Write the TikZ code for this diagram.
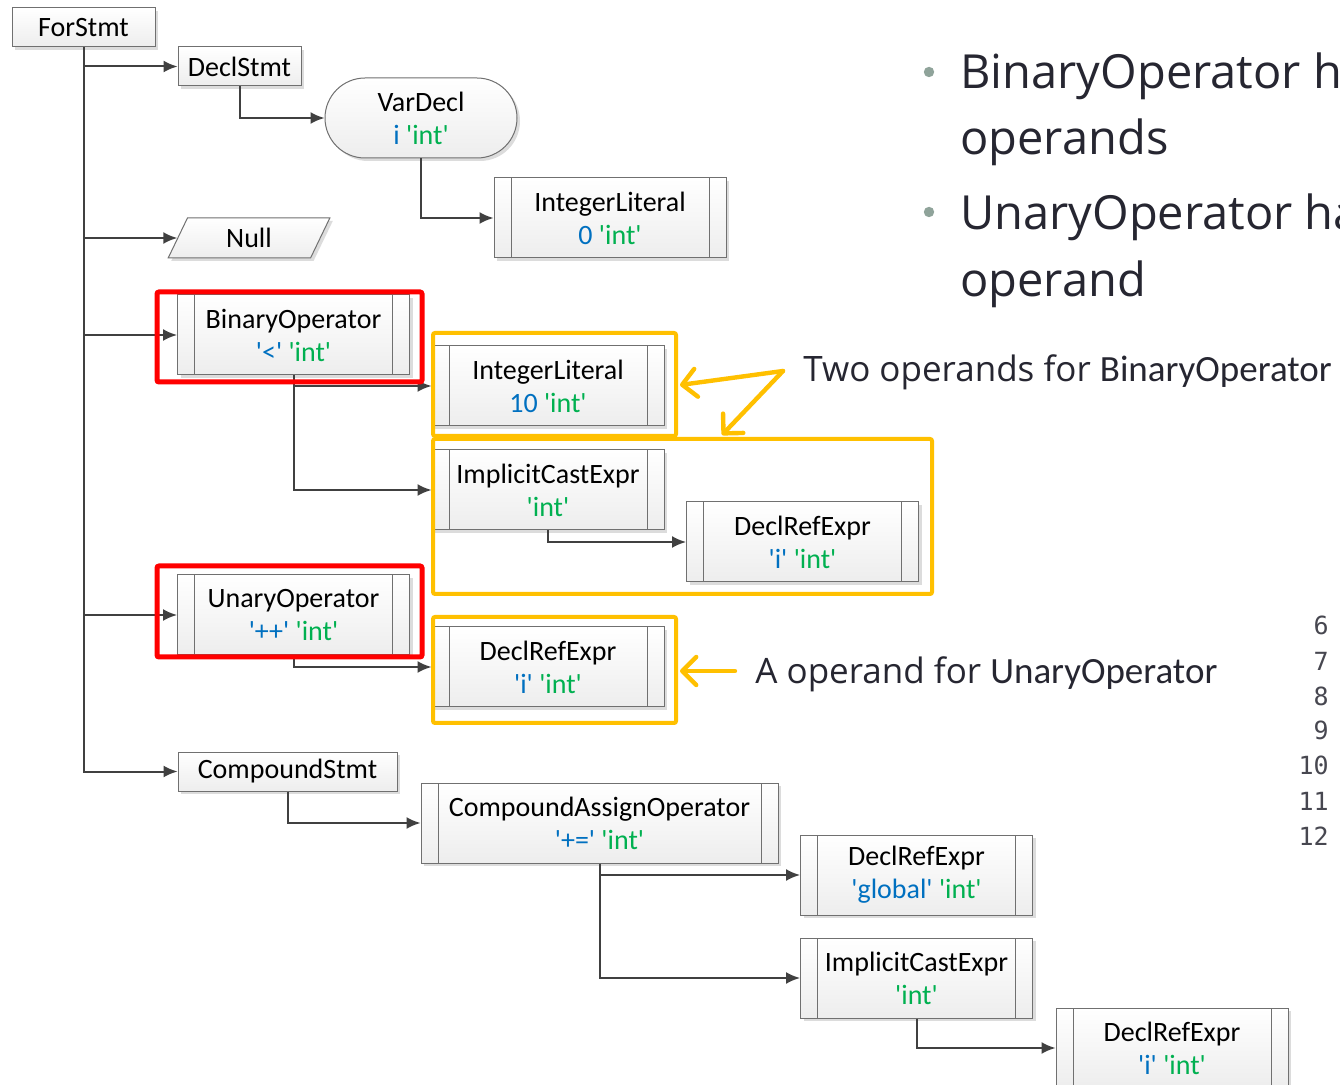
\documentclass[tikz,border=0pt]{standalone}
\usepackage{fontspec}
\setmainfont{Carlito}
\newfontfamily\segoe{Open Sans}
\newfontfamily\consolas{DejaVu Sans Mono}
\usetikzlibrary{shapes.geometric,arrows.meta,shadows}
\definecolor{valblue}{HTML}{0070C0}
\definecolor{typegreen}{HTML}{00B050}
\definecolor{hlorange}{HTML}{FFC000}
\definecolor{hlred}{HTML}{FF0000}
\definecolor{arrowgray}{HTML}{404040}
\definecolor{boxgray}{HTML}{707070}
\definecolor{bulletgray}{HTML}{8FA39A}
\definecolor{textdark}{HTML}{262631}
\newcommand{\sq}[1]{\textquotesingle#1\textquotesingle}
\newcommand{\astval}[1]{\textcolor{valblue}{#1}}
\newcommand{\asttype}{\textcolor{typegreen}{\sq{int}}}
\tikzstyle{conn} = [draw=arrowgray, line width=1pt, -{Latex[length=7pt,width=6pt]}]
\tikzstyle{plainbox} = [draw=boxgray, line width=0.5pt, top color=white, bottom color=gray!14,
  drop shadow={shadow xshift=1.5pt,shadow yshift=-1.5pt,fill=gray!45,opacity=.6},
  align=center, font=\fontsize{14}{16.5}\selectfont, inner sep=0pt]
\tikzstyle{stmt} = [plainbox, minimum height=19.5pt]
\tikzstyle{process} = [plainbox, minimum width=116pt, minimum height=40pt,
  path picture={\draw[boxgray, line width=0.5pt]
    ([xshift=8.5pt]path picture bounding box.north west) -- ([xshift=8.5pt]path picture bounding box.south west)
    ([xshift=-8.5pt]path picture bounding box.north east) -- ([xshift=-8.5pt]path picture bounding box.south east);}]
\tikzstyle{terminal} = [plainbox, rounded corners=20pt, minimum width=96pt, minimum height=40pt]
\tikzstyle{inout} = [plainbox, trapezium, trapezium left angle=70, trapezium right angle=110,
  trapezium stretches=true, minimum width=81pt, minimum height=20pt]
\tikzstyle{redbox} = [draw=hlred, line width=2.5pt, rounded corners=1pt]
\tikzstyle{orangebox} = [draw=hlorange, line width=2pt, rounded corners=1pt]
\tikzstyle{orangearrow} = [draw=hlorange, line width=2.2pt, line cap=round, line join=round,
  -{Straight Barb[length=7pt,width=14pt,round]}]
\tikzstyle{bullettext} = [anchor=base west, inner sep=0pt, text=textdark, font=\segoe\fontsize{23.5}{28}\selectfont]
\tikzstyle{note} = [anchor=base west, inner sep=0pt, text=textdark]
\tikzstyle{lineno} = [anchor=base east, inner sep=0pt, text=textdark!85, font=\consolas\fontsize{12.5}{15}\selectfont]

\begin{document}
\begin{tikzpicture}[x=0.5pt,y=-0.5pt]
\useasboundingbox (0,0) rectangle (1340,1085);
\clip (0,0) rectangle (1340,1085);
\fill[white] (0,0) rectangle (1340,1085);

% the tree
\node[stmt, minimum width=71.5pt] (for) at (83.5,27.5) {ForStmt};
\node[stmt, minimum width=61.5pt] (decl) at (239.5,66.5) {DeclStmt};
\node[terminal] (var) at (421,118) {VarDecl\\\astval{i} \asttype};
\node[process] (lit0) at (610,218) {IntegerLiteral\\\astval{0} \asttype};
\node[inout] (null) at (249,238) {Null};
\node[process] (bin) at (293.5,335) {BinaryOperator\\\astval{\sq{<}} \asttype};
\node[process] (lit10) at (548,386) {IntegerLiteral\\\astval{10} \asttype};
\node[process] (ice) at (548,490) {ImplicitCastExpr\\\asttype};
\node[process] (dre) at (802.5,542) {DeclRefExpr\\\astval{\sq{i}} \asttype};
\node[process] (un) at (293.5,615) {UnaryOperator\\\astval{\sq{++}} \asttype};
\node[process] (dretwo) at (548,667) {DeclRefExpr\\\astval{\sq{i}} \asttype};
\node[stmt, minimum width=109.5pt] (cstmt) at (287.5,771.5) {CompoundStmt};
\node[process, minimum width=178.5pt] (cao) at (599.5,823) {CompoundAssignOperator\\\astval{\sq{+=}} \asttype};
\node[process] (dreg) at (916.5,875) {DeclRefExpr\\\astval{\sq{global}} \asttype};
\node[process] (icetwo) at (916.5,978) {ImplicitCastExpr\\\asttype};
\node[process] (drethree) at (1172,1048) {DeclRefExpr\\\astval{\sq{i}} \asttype};

\foreach \kid in {decl,null,bin,un,cstmt}
  \draw[conn] (for.south) |- (\kid.west);
\draw[conn] (decl.south) |- (var.west);
\draw[conn] (var.south) |- (lit0.west);
\draw[conn] (bin.south) |- (lit10.west);
\draw[conn] (bin.south) |- (ice.west);
\draw[conn] (ice.south) |- (dre.west);
\draw[conn] (un.south) |- (dretwo.west);
\draw[conn] (cstmt.south) |- (cao.west);
\draw[conn] (cao.south) |- (dreg.west);
\draw[conn] (cao.south) |- (icetwo.west);
\draw[conn] (icetwo.south) |- (drethree.west);

% highlights
\draw[redbox] (157,292) rectangle (422,382);
\draw[redbox] (157,566) rectangle (422,657);
\draw[orangebox] (433,333) rectangle (676,436);
\draw[orangebox] (433,439) rectangle (932,594);
\draw[orangebox] (433,617) rectangle (676,723);

\coordinate (twofrom) at (783,371);
\coordinate (twoto) at (680,385);
\coordinate (twotob) at (722,435);
\coordinate (onefrom) at (735,671);
\coordinate (oneto) at (680,671);
\draw[orangearrow] (twofrom) -- (twoto);
\draw[orangearrow] (twofrom) -- (twotob);
\draw[orangearrow] (onefrom) -- (oneto);

\node[note] (twonote) at (803,382) {{\segoe\fontsize{17.5}{21}\selectfont Two operands for }{\fontsize{18.5}{22}\selectfont BinaryOperator}};
\node[note] (onenote) at (755,683) {{\segoe\fontsize{17.5}{21}\selectfont A operand for }{\fontsize{18.5}{22}\selectfont UnaryOperator}};

% bullets
\fill[bulletgray] (929,72) circle (2.6pt);
\fill[bulletgray] (929,212) circle (2.6pt);
\node[bullettext] (bina) at (960,89) {BinaryOperator h};
\node[bullettext] (binb) at (960,155) {operands};
\node[bullettext] (una) at (960,230) {UnaryOperator ha};
\node[bullettext] (unb) at (960,297) {operand};

% line numbers
\foreach \n [count=\i from 0] in {6,...,12}
  \node[lineno] (ln\n) at (1329,635+35*\i) {\n};
\end{tikzpicture}
\end{document}
